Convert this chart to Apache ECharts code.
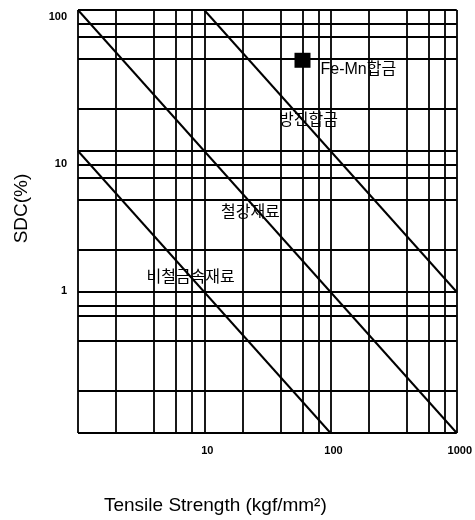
<!DOCTYPE html>
<html>
<head>
<meta charset="utf-8">
<script src="https://cdn.jsdelivr.net/npm/echarts@6/dist/echarts.min.js"></script>
<style>
html,body{margin:0;padding:0;background:#fff;}
#c{width:475px;height:520px;}
</style>
</head>
<body>
<div id="c"></div>
<script>
// Grid line positions (values on the log axes)
const xGrid = [1, 2, 4, 6, 8, 10, 20, 40, 60, 80, 100, 200, 400, 600, 800, 1000];
const yGrid = [100, 80, 65, 45, 20, 10, 8, 6.5, 4.5, 2, 1, 0.8, 0.68, 0.45, 0.2, 0.1];

// Diagonal boundary lines (Tensile Strength, SDC)
const lineA = [[1, 100], [1000, 0.1]];   // x*y = 100
const lineB = [[10, 100], [1000, 1]];    // x*y = 1000
const lineC = [[1, 10], [100, 0.1]];     // x*y = 10

// Fe-Mn alloy point
const feMnPoint = [[60, 44]];
const feMnName = 'Fe-Mn합금';

// Region labels
const regionNames = ['방진합금', '철강재료', '비철금속재료'];
const regionAt = [[67, 16.9], [23.2, 3.75], [7.8, 1.3]];

// Tick labels
const xTickLabels = [10, 100, 1000];
const yTickLabels = [1, 10, 100];

const LINE = '#000';
const latin = 'Liberation Sans, Arial, "Noto Sans CJK KR", sans-serif';

const chart = echarts.init(document.getElementById('c'), null, {renderer: 'canvas'});

function near(v, t) { return Math.abs(v - t) / t < 1e-6; }

const option = {
  animation: false,
  backgroundColor: '#fff',
  grid: {left: 78, right: 17, top: 10, bottom: 81, containLabel: false},
  xAxis: {
    type: 'log', logBase: 10, min: 1, max: 1000,
    axisLine: {show: false}, axisTick: {show: false}, splitLine: {show: false},
    axisLabel: {
      margin: 12,
      formatter: function (v) {
        for (const t of xTickLabels) if (near(v, t)) return '{a|' + t + '}';
        return '';
      },
      rich: {a: {fontSize: 11, fontWeight: 'bold', color: '#000', fontFamily: latin, padding: [0, 0, 0, 6]}}
    },
    name: 'Tensile Strength (kgf/mm²)',
    nameLocation: 'middle', nameGap: 63,
    nameTextStyle: {fontSize: 19, color: '#000', fontFamily: latin, padding: [0, 104, 0, 0]}
  },
  yAxis: {
    type: 'log', logBase: 10, min: 0.1, max: 100,
    axisLine: {show: false}, axisTick: {show: false}, splitLine: {show: false},
    axisLabel: {
      margin: 11,
      formatter: function (v) {
        if (near(v, 100)) return '{a|100}';
        if (near(v, 10)) return '{b|10}';
        if (near(v, 1)) return '{c|1}';
        return '';
      },
      rich: {
        a: {fontSize: 11, fontWeight: 'bold', color: '#000', fontFamily: latin, padding: [14, 0, 0, 0]},
        b: {fontSize: 11, fontWeight: 'bold', color: '#000', fontFamily: latin, padding: [26, 0, 0, 0]},
        c: {fontSize: 11, fontWeight: 'bold', color: '#000', fontFamily: latin, padding: [0, 0, 2, 0]}
      }
    },
    name: 'SDC(%)',
    nameLocation: 'middle', nameGap: 47,
    nameTextStyle: {fontSize: 19, color: '#000', fontFamily: latin, padding: [0, 0, 0, 26]}
  },
  series: [
    {
      type: 'line', data: lineA, symbol: 'none',
      lineStyle: {color: LINE, width: 2}, z: 3,
      markLine: {
        silent: true, symbol: 'none', label: {show: false},
        lineStyle: {type: 'solid', color: LINE, width: 1.8},
        emphasis: {disabled: true},
        data: xGrid.map(v => ({xAxis: v})).concat(yGrid.map(v => ({yAxis: v})))
      }
    },
    {type: 'line', data: lineB, symbol: 'none', lineStyle: {color: LINE, width: 2}, z: 3},
    {type: 'line', data: lineC, symbol: 'none', lineStyle: {color: LINE, width: 2}, z: 3},
    {
      type: 'scatter', data: feMnPoint, symbol: 'rect', symbolSize: [16, 15],
      itemStyle: {color: '#000', opacity: 1}, z: 5,
      label: {
        show: true, position: 'right', distance: 10, offset: [0, 9],
        formatter: feMnName, fontSize: 16, color: '#000', fontFamily: latin
      }
    },
    {
      type: 'scatter', symbolSize: 2, itemStyle: {color: 'rgba(0,0,0,0)', opacity: 1}, z: 6,
      data: regionNames.map((n, i) => ({name: n, value: regionAt[i]})),
      label: {
        show: true, position: 'inside', formatter: '{b}',
        fontSize: 16, color: '#000', fontFamily: '"Noto Sans CJK KR", sans-serif'
      }
    }
  ]
};
chart.setOption(option);
</script>
</body>
</html>
